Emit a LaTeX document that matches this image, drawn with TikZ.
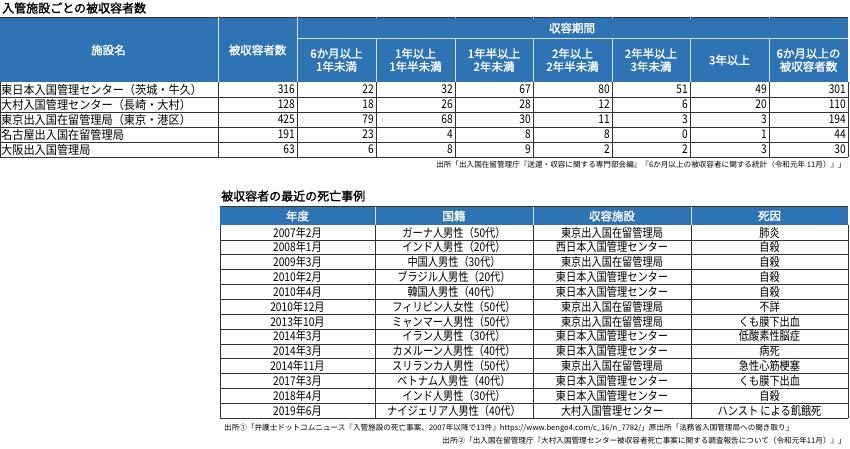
\documentclass[tikz,border=0pt]{standalone}
\usepackage{fontspec}
\setmainfont{Noto Sans CJK JP}
\newfontfamily\jpb{Noto Sans CJK JP}[FakeBold=1.5]
\definecolor{hdr}{HTML}{2E74B5}
\tikzset{
 hd/.style={text=white,font=\jpb\fontsize{11.5}{13}\selectfont,align=center,inner sep=0},
 cel/.style={font=\fontsize{12}{12}\selectfont,inner sep=1pt},
 num/.style={cel,anchor=east},
 src/.style={font=\fontsize{7.6}{8}\selectfont,inner sep=0},
 ttl/.style={font=\jpb\fontsize{12}{13}\selectfont,anchor=west,inner sep=0},
 gl/.style={draw=black!80,line width=0.6pt},
 wl/.style={draw=white!80!hdr,line width=0.8pt}
}
\newcommand{\nm}[1]{\scalebox{0.85}[1]{#1}}
\begin{document}
\begin{tikzpicture}[x=1pt,y=-1pt]
\useasboundingbox (0,0) rectangle (850,448);
% ---------- top table
\node[ttl] (t1) at (2,8) {入管施設ごとの被収容者数};
\fill[hdr] (0,17) rectangle (848,82);
\draw[gl,line width=1pt] (0,17) -- (848,17);
\foreach \x in {218,297,376,455,533,612,690,769} \draw[wl] (\x,17) -- (\x,82);
\fill[hdr] (298,18) rectangle (848,37.5);
\draw[wl] (297,38) -- (848,38);
\node[hd] (h0) at (108.5,50) {施設名};
\node[hd] (h1) at (257.5,50) {被収容者数};
\node[hd] (h2) at (572,28) {収容期間};
\foreach \x/\t [count=\i] in {336.5/{6か月以上\\1年未満},415.5/{1年以上\\1年半未満},494/{1年半以上\\2年未満},572.5/{2年以上\\2年半未満},651/{2年半以上\\3年未満},729.5/{3年以上},808.5/{6か月以上の\\被収容者数}}
  \node[hd] (hh\i) at (\x,60) {\t};
\foreach \n/\a/\b/\c/\d/\e/\f/\g/\h/\k [count=\r] in {
 {東日本入国管理センター（茨城・牛久）}/316/22/32/67/80/51/49/301/0,
 {大村入国管理センター（長崎・大村）}/128/18/26/28/12/6/20/110/0,
 {東京出入国在留管理局（東京・港区）}/425/79/68/30/11/3/3/194/0,
 {名古屋出入国在留管理局}/191/23/4/8/8/0/1/44/0,
 {大阪出入国管理局}/63/6/8/9/2/2/3/30/0}{
  \pgfmathsetmacro{\y}{82+15*\r-7.5}
  \node[cel,anchor=west] (n\r) at (0,\y) {\scalebox{0.93}[1]{\n}};
  \foreach \v/\x [count=\j] in {\a/296,\b/375,\c/454,\d/532,\e/611,\f/689,\g/768,\h/847}
    \node[num] (v\r-\j) at (\x,\y) {\nm{\v}};
  \draw[gl] (0,82+15*\r) -- (848,82+15*\r);
}
\foreach \x in {0,218,297,376,455,533,612,690,769,848} \draw[gl] (\x,82) -- (\x,157);
\draw[gl,line width=1pt] (0,157) -- (848,157);
\node[src,anchor=east] (s1) at (846,165) {出所「出入国在留管理庁『送還・収容に関する専門部会編』『6か月以上の被収容者に関する統計（令和元年 11月）』」};
% ---------- bottom table
\node[ttl] (t2) at (221,196) {被収容者の最近の死亡事例};
\fill[hdr] (220,207) rectangle (848,225);
\draw[gl,line width=1pt] (220,206.5) -- (848,206.5);
\foreach \x in {375,533,691} \draw[wl] (\x,207) -- (\x,225);
\foreach \x/\t [count=\i] in {297.5/年度,454/国籍,612/収容施設,769.5/死因}
  \node[hd] (bh\i) at (\x,216) {\t};
\foreach \a/\b/\c/\d [count=\r] in {
 2007年2月/{ガーナ人男性（50代）}/東京出入国在留管理局/肺炎,
 2008年1月/{インド人男性（20代）}/西日本入国管理センター/自殺,
 2009年3月/{中国人男性（30代）}/東京出入国在留管理局/自殺,
 2010年2月/{ブラジル人男性（20代）}/東日本入国管理センター/自殺,
 2010年4月/{韓国人男性（40代）}/東日本入国管理センター/自殺,
 2010年12月/{フィリピン人女性（50代）}/東京出入国在留管理局/不詳,
 2013年10月/{ミャンマー人男性（50代）}/東京出入国在留管理局/くも膜下出血,
 2014年3月/{イラン人男性（30代）}/東日本入国管理センター/低酸素性脳症,
 2014年3月/{カメルーン人男性（40代）}/東日本入国管理センター/病死,
 2014年11月/{スリランカ人男性（50代）}/東京出入国在留管理局/急性心筋梗塞,
 2017年3月/{ベトナム人男性（40代）}/東日本入国管理センター/くも膜下出血,
 2018年4月/{インド人男性（30代）}/東日本入国管理センター/自殺,
 2019年6月/{ナイジェリア人男性（40代）}/大村入国管理センター/ハンスト による飢餓死}{
  \pgfmathsetmacro{\y}{225+14.85*\r-7.4}
  \node[cel] (d\r-1) at (297.5,\y) {\nm{\a}};
  \node[cel] (d\r-2) at (454,\y) {\nm{\b}};
  \node[cel] (d\r-3) at (612,\y) {\nm{\c}};
  \node[cel] (d\r-4) at (769.5,\y) {\nm{\d}};
  \draw[gl] (220,225+14.85*\r) -- (848,225+14.85*\r);
}
\foreach \x in {220,375,533,691,848} \draw[gl] (\x,225) -- (\x,418);
\draw[gl,line width=1pt] (220,418) -- (848,418);
\node[src,anchor=west] (s2) at (224,428) {出所①「弁護士ドットコムニュース『入管施設の死亡事案、2007年以降で13件』https://www.bengo4.com/c\_16/n\_7782/」原出所「法務省入国管理局への聞き取り」};
\node[src,anchor=east] (s3) at (846,441) {出所②「出入国在留管理庁『大村入国管理センター被収容者死亡事案に関する調査報告について（令和元年11月）』」};
\end{tikzpicture}
\end{document}
